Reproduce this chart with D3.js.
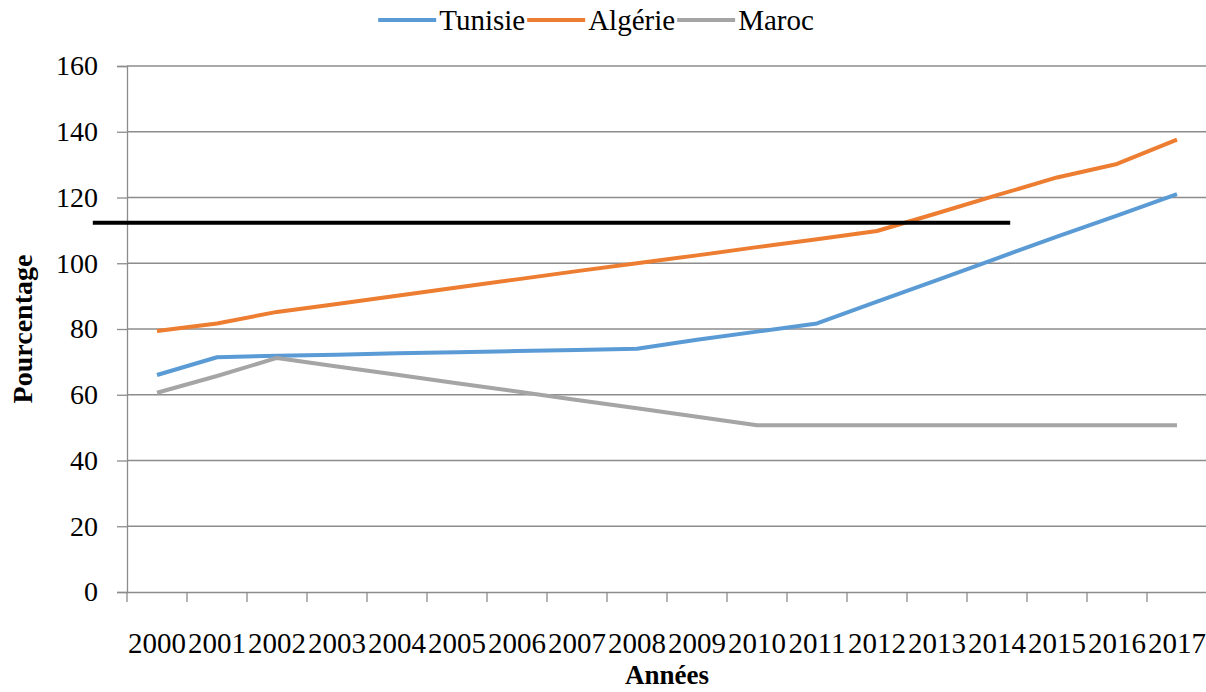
<!DOCTYPE html>
<html>
<head>
<meta charset="utf-8">
<script src="https://cdn.jsdelivr.net/npm/d3@7"></script>
<style>
  body { margin: 0; background: #fff; }
  svg { display: block; }
  svg text { font-family: "Liberation Serif", "Times New Roman", Times, "DejaVu Serif", serif; }
</style>
</head>
<body>
<div id="chart"></div>
<script>
// values
const years = d3.range(2000, 2018).map(String);
const tunisie = [66.0, 71.4, 71.9, 72.2, 72.6, 72.9, 73.3, 73.6, 74.0, 76.7, 79.2, 81.7, 88.3, 94.9, 101.5, 108.1, 114.5, 121.0];
const algerie = [79.4, 81.7, 85.2, 87.6, 90.1, 92.6, 95.1, 97.6, 100.0, 102.4, 104.9, 107.3, 109.8, 115.2, 120.7, 126.1, 130.2, 137.6];
const maroc = [60.6, 65.7, 71.2, 68.6, 66.1, 63.5, 61.0, 58.4, 55.9, 53.3, 50.7, 50.7, 50.7, 50.7, 50.7, 50.7, 50.7, 50.7];
const yTicks = [0, 20, 40, 60, 80, 100, 120, 140, 160];
const seriesNames = ["Tunisie", "Algérie", "Maroc"];
const seriesColors = ["#5B9BD5", "#ED7D31", "#A5A5A5"];
// black horizontal mark drawn over the chart (value, start year, end year)
const refLine = { value: 112.3, from: 1998.93, to: 2014.22 };

const width = 1206, height = 692;
const margin = { top: 66, right: 0, bottom: 100, left: 127 };

var svg = d3.select("#chart")
    .append("svg")
    .attr("width", width)
    .attr("height", height);

var x = d3.scaleBand()
    .domain(years)
    .range([margin.left, margin.left + 1080])
    .padding(0);

var xYear = d3.scaleLinear()
    .domain([2000, 2017])
    .range([x("2000") + x.bandwidth() / 2, x("2017") + x.bandwidth() / 2]);

var y = d3.scaleLinear()
    .domain([0, 160])
    .range([height - margin.bottom, margin.top]);

// gridlines
svg.append("g")
    .selectAll("line")
    .data(yTicks.slice(1))
    .enter().append("line")
    .attr("x1", margin.left)
    .attr("x2", x.range()[1])
    .attr("y1", d => y(d))
    .attr("y2", d => y(d))
    .attr("stroke", "#8c8c8c")
    .attr("stroke-width", 1.3);

// y axis
var yAxis = svg.append("g")
    .attr("transform", `translate(${margin.left},0)`)
    .call(d3.axisLeft(y).tickValues(yTicks).tickSize(10).tickPadding(19))
    .call(g => g.selectAll("line, .domain").attr("stroke", "#8c8c8c").attr("stroke-width", 1.3));
yAxis.attr("font-family", null).attr("font-size", null);
yAxis.selectAll("text")
    .style("font-size", "28px")
    .attr("fill", "#000");

// x axis: labels centred on categories, ticks on boundaries
var xAxis = svg.append("g")
    .attr("transform", `translate(0,${y(0)})`)
    .call(d3.axisBottom(x).tickSize(0).tickPadding(40))
    .call(g => g.select(".domain").attr("stroke", "#8c8c8c").attr("stroke-width", 1.3));
xAxis.attr("font-family", null).attr("font-size", null);
xAxis.selectAll("text")
    .style("font-size", "29px")
    .attr("fill", "#000");

xAxis.selectAll(".bound")
    .data(years.map(d => x(d)).concat([x.range()[1]]))
    .enter().append("line")
    .attr("class", "bound")
    .attr("x1", d => d)
    .attr("x2", d => d)
    .attr("y1", 0)
    .attr("y2", 10)
    .attr("stroke", "#8c8c8c")
    .attr("stroke-width", 1.3);

// series lines
var line = d3.line()
    .x((d, i) => x(years[i]) + x.bandwidth() / 2)
    .y(d => y(d));

[tunisie, algerie, maroc].forEach(function (vals, k) {
    svg.append("path")
        .datum(vals)
        .attr("fill", "none")
        .attr("stroke", seriesColors[k])
        .attr("stroke-width", 4)
        .attr("stroke-linejoin", "round")
        .attr("d", line);
});

// black reference mark
svg.append("line")
    .attr("x1", xYear(refLine.from))
    .attr("x2", xYear(refLine.to))
    .attr("y1", y(refLine.value))
    .attr("y2", y(refLine.value))
    .attr("stroke", "#000")
    .attr("stroke-width", 4);

// axis titles
svg.append("text")
    .attr("transform", "rotate(-90)")
    .attr("x", -(y(0) + y(160)) / 2)
    .attr("y", 22)
    .attr("dy", "0.35em")
    .style("text-anchor", "middle")
    .style("font-size", "28px")
    .style("font-weight", "bold")
    .text("Pourcentage");

svg.append("text")
    .attr("x", (x.range()[0] + x.range()[1]) / 2)
    .attr("y", 684)
    .style("text-anchor", "middle")
    .style("font-size", "27px")
    .style("font-weight", "bold")
    .text("Années");

// legend
var legend = svg.append("g");
var cx = 0;
seriesNames.forEach(function (name, k) {
    legend.append("line")
        .attr("x1", cx).attr("x2", cx + 58)
        .attr("y1", 20).attr("y2", 20)
        .attr("stroke", seriesColors[k])
        .attr("stroke-width", 4);
    var t = legend.append("text")
        .attr("x", cx + 61)
        .attr("y", 30)
        .style("font-size", "29px")
        .text(name);
    cx += 61 + t.node().getComputedTextLength() + 2;
});
legend.attr("transform", `translate(${597 - cx / 2},0)`);
</script>
</body>
</html>
